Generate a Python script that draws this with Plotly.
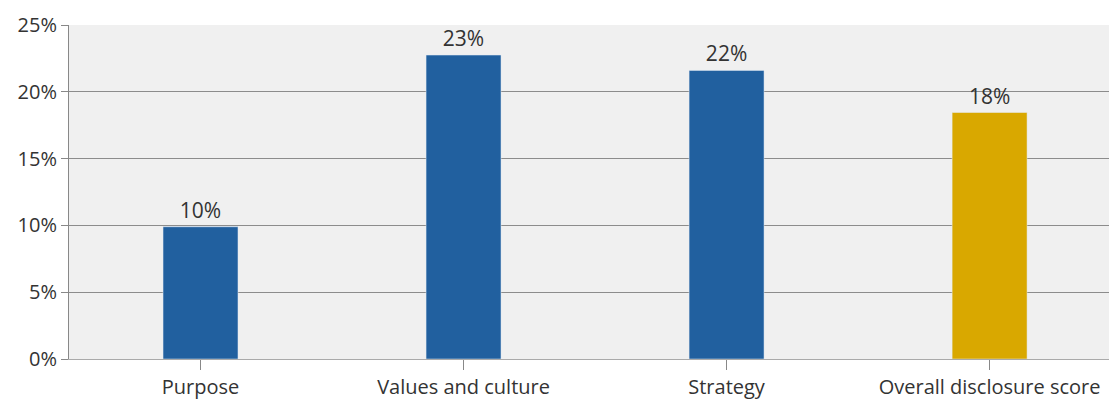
import plotly.graph_objects as go

categories = ["Purpose", "Values and culture", "Strategy", "Overall disclosure score"]
values = [9.9, 22.75, 21.6, 18.45]
labels = ["10%", "23%", "22%", "18%"]
colors = ["#21609f", "#21609f", "#21609f", "#d9a800"]
y_ticks = [0, 5, 10, 15, 20, 25]
y_ticktext = ["0%", "5%", "10%", "15%", "20%", "25%"]

fig = go.Figure(go.Bar(
    x=list(range(len(categories))), y=values, marker_color=colors, width=0.285,
    text=labels, textposition="outside", cliponaxis=False,
    textfont=dict(size=21, color="#333333", family="Open Sans"),
))
fig.update_layout(
    width=1109, height=400, margin=dict(l=69, r=0, t=25, b=39),
    plot_bgcolor="#f0f0f0", paper_bgcolor="white", showlegend=False,
    font=dict(family="Open Sans", size=20, color="#333333"),
)
fig.update_xaxes(
    range=[-0.5, 3.454], tickvals=list(range(len(categories))), ticktext=categories,
    ticks="outside", ticklen=10, tickcolor="#888888", showgrid=False,
    showline=True, linecolor="#aaaaaa", linewidth=1,
    tickfont=dict(size=20, color="#333333"),
)
fig.update_yaxes(
    range=[0, 25], tickvals=y_ticks, ticktext=y_ticktext,
    ticks="outside", ticklen=7, tickcolor="#888888",
    showgrid=True, gridcolor="#8c8c8c", gridwidth=1,
    showline=True, linecolor="#888888", zeroline=False,
    tickfont=dict(size=20, color="#333333"),
)
fig.write_html("out.html")
